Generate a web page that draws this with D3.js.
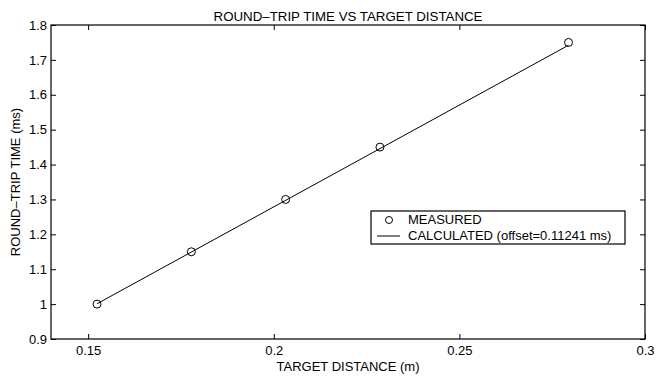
<!DOCTYPE html>
<html>
<head>
<meta charset="utf-8">
<script src="https://cdn.jsdelivr.net/npm/d3@7"></script>
<style>
    body { margin: 0; background: #fff; }
    text { font-family: "Liberation Sans", Arial, sans-serif; fill: #000; }
</style>
</head>
<body>
<div id="chart-area"></div>
<script>
// measured points (distance in m, time in ms)
var distances = [0.1524, 0.1778, 0.2032, 0.2286, 0.2794];
var measured = [1.00, 1.15, 1.30, 1.45, 1.75];
// calculated line, read at the first and last distance
var calcDistances = [0.1524, 0.2794];
var calculated = [1.001, 1.742];

var xTicks = [0.15, 0.2, 0.25, 0.3];
var yTicks = [0.9, 1, 1.1, 1.2, 1.3, 1.4, 1.5, 1.6, 1.7, 1.8];

var margin = { top: 25, right: 11, bottom: 40, left: 51 };
var width = 656 - margin.left - margin.right;
var height = 379 - margin.top - margin.bottom;
var fontSize = "13px";

var svg = d3.select("#chart-area")
    .append("svg")
    .attr("width", 656)
    .attr("height", 379);

var g = svg.append("g")
    .attr("transform", `translate(${margin.left}, ${margin.top})`);

var x = d3.scaleLinear().domain([0.14, 0.3]).range([0, width]);
var y = d3.scaleLinear().domain([0.9, 1.8]).range([height, 0]);

// title
g.append("text")
    .attr("x", width / 2)
    .attr("y", -4)
    .attr("text-anchor", "middle")
    .attr("font-size", "13.3px")
    .text("ROUND\u2013TRIP TIME VS TARGET DISTANCE");

// axes with inward ticks on all four sides
var fmt = d => String(d);
g.append("g")
    .attr("transform", `translate(0, ${height})`)
    .call(d3.axisBottom(x).tickValues(xTicks).tickFormat(fmt).tickSizeInner(-5).tickSizeOuter(0).tickPadding(7));
g.append("g")
    .call(d3.axisTop(x).tickValues(xTicks).tickFormat("").tickSizeInner(-5).tickSizeOuter(0));
g.append("g")
    .call(d3.axisLeft(y).tickValues(yTicks).tickFormat(fmt).tickSizeInner(-5).tickSizeOuter(0).tickPadding(4));
g.append("g")
    .attr("transform", `translate(${width}, 0)`)
    .call(d3.axisRight(y).tickValues(yTicks).tickFormat("").tickSizeInner(-5).tickSizeOuter(0));

g.selectAll(".domain").remove();
g.selectAll(".tick line").attr("stroke", "#000");
g.selectAll(".tick text")
    .attr("font-size", fontSize)
    .attr("fill", "#000")
    .style("font-family", "'Liberation Sans', Arial, sans-serif");

g.append("rect")
    .attr("x", 0)
    .attr("y", 0)
    .attr("width", width)
    .attr("height", height)
    .attr("fill", "none")
    .attr("stroke", "#000")
    .attr("stroke-width", 1.2);

// axis labels
g.append("text")
    .attr("x", width / 2)
    .attr("y", height + 32)
    .attr("text-anchor", "middle")
    .attr("font-size", fontSize)
    .text("TARGET DISTANCE (m)");

g.append("text")
    .attr("transform", "rotate(-90)")
    .attr("x", -height / 2)
    .attr("y", -31)
    .attr("text-anchor", "middle")
    .attr("font-size", fontSize)
    .text("ROUND\u2013TRIP TIME (ms)");

// calculated line
var line = d3.line()
    .x((d, i) => x(calcDistances[i]))
    .y(d => y(d));
g.append("path")
    .datum(calculated)
    .attr("d", line)
    .attr("fill", "none")
    .attr("stroke", "#000")
    .attr("stroke-width", 1);

// measured markers
g.selectAll(".pt")
    .data(measured)
    .enter()
    .append("circle")
    .attr("class", "pt")
    .attr("cx", (d, i) => x(distances[i]))
    .attr("cy", d => y(d))
    .attr("r", 4)
    .attr("fill", "none")
    .attr("stroke", "#000")
    .attr("stroke-width", 1);

// legend
var lg = svg.append("g").attr("transform", "translate(371, 211)");
lg.append("rect")
    .attr("width", 254)
    .attr("height", 33)
    .attr("fill", "#fff")
    .attr("stroke", "#000")
    .attr("stroke-width", 1.2);
lg.append("circle")
    .attr("cx", 18)
    .attr("cy", 9)
    .attr("r", 3.5)
    .attr("fill", "none")
    .attr("stroke", "#000");
lg.append("line")
    .attr("x1", 6).attr("x2", 29)
    .attr("y1", 25).attr("y2", 25)
    .attr("stroke", "#000");
lg.append("text")
    .attr("x", 37)
    .attr("y", 13.3)
    .attr("font-size", fontSize)
    .text("MEASURED");
lg.append("text")
    .attr("x", 37)
    .attr("y", 28.5)
    .attr("font-size", fontSize)
    .text("CALCULATED (offset=0.11241 ms)");
</script>
</body>
</html>
